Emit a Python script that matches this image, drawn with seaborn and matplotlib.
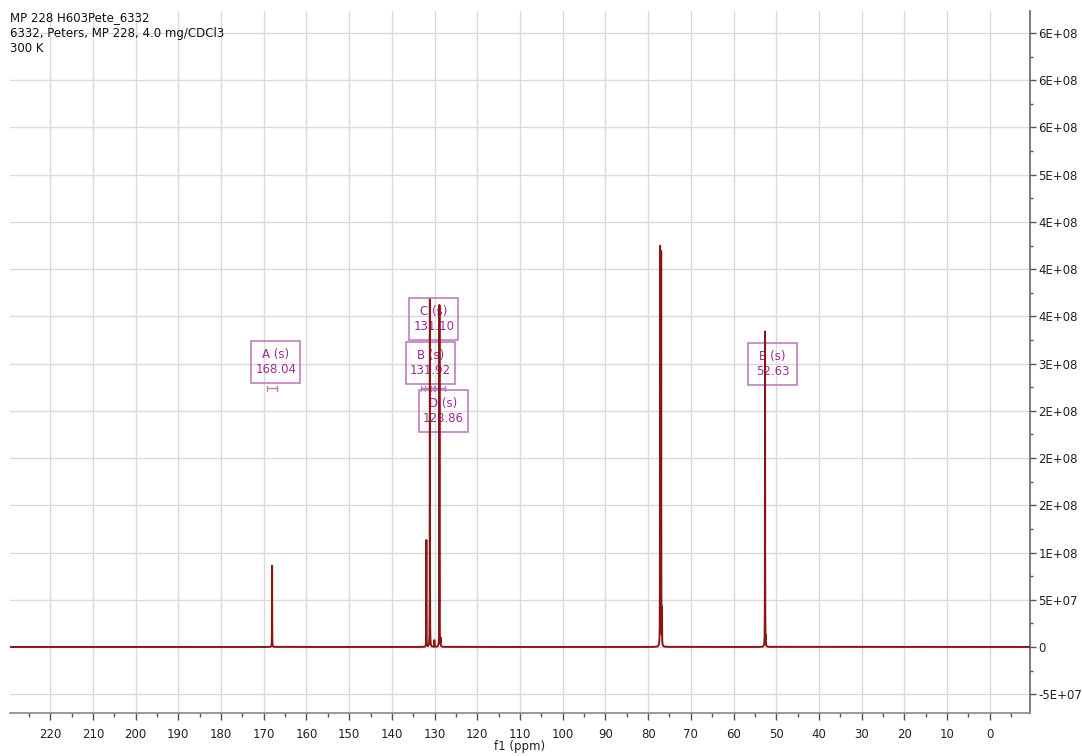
import numpy as np
import pandas as pd
import matplotlib
matplotlib.use("Agg")
import matplotlib.pyplot as plt
from matplotlib.patches import Rectangle
import seaborn as sns

# ---- data ----
header_lines = ["MP 228 H603Pete_6332", "6332, Peters, MP 228, 4.0 mg/CDCl3", "300 K"]
peak_ppm = [168.04, 131.92, 131.10, 130.05, 128.86, 128.60, 77.20, 76.95, 76.75, 52.63, 52.45]
peak_height = [8.6e7, 1.13e8, 3.68e8, 7.0e6, 3.62e8, 8.0e6, 4.22e8, 4.16e8, 3.8e7, 3.34e8, 9.0e6]
label_names = ["A", "B", "C", "D", "E"]
label_ppm = [168.04, 131.92, 131.10, 128.86, 52.63]
x_ticks = [220, 210, 200, 190, 180, 170, 160, 150, 140, 130, 120, 110, 100, 90, 80, 70, 60, 50, 40, 30, 20, 10, 0]
y_tick_values = [-5e7, 0, 5e7, 1e8, 1.5e8, 2e8, 2.5e8, 3e8, 3.5e8, 4e8, 4.5e8, 5e8, 5.5e8, 6e8, 6.5e8]
y_tick_labels = ["-5E+07", "0", "5E+07", "1E+08", "2E+08", "2E+08", "2E+08", "3E+08",
                 "4E+08", "4E+08", "4E+08", "5E+08", "6E+08", "6E+08", "6E+08"]

# ---- build spectrum from peak list (Lorentzian lines) ----
ppm = np.round(np.arange(-9.4, 229.4, 0.01), 2)
hwhm = 0.02
intensity = np.zeros_like(ppm)
for p, h in zip(peak_ppm, peak_height):
    intensity += h * hwhm**2 / ((ppm - p) ** 2 + hwhm**2)
df = pd.DataFrame({"ppm": ppm, "intensity": intensity})

sns.set_theme(style="white")
plt.rcParams["font.family"] = ["DejaVu Sans"]

fig = plt.figure(figsize=(10.82, 7.56), dpi=100)
W, H = 1082, 756
ax = fig.add_axes([10 / W, 1 - 713 / H, (1030 - 10) / W, (713 - 11) / H])

line_color = "#8b1515"
sns.lineplot(data=df, x="ppm", y="intensity", ax=ax, color=line_color, linewidth=1.4, zorder=5)

ax.set_xlim(229.4, -9.4)
ax.set_ylim(-6.99e7, 6.733e8)

# grid
ax.set_xticks(x_ticks)
ax.set_xticks(np.arange(225, -10, -5), minor=True)
ax.set_yticks(y_tick_values)
ax.set_yticklabels(y_tick_labels)
ax.set_yticks(np.arange(-5e7, 6.75e8, 2.5e7), minor=True)
ax.grid(True, which="major", color="#dadada", linewidth=1.0)
ax.set_axisbelow(True)

ax.yaxis.tick_right()
ax.yaxis.set_label_position("right")
ax.tick_params(axis="y", which="major", direction="out", length=4, width=1, color="#555555",
               labelsize=8.5, labelcolor="#222222", pad=2, right=True, left=False)
ax.tick_params(axis="y", which="minor", direction="out", length=2, width=1, color="#555555", right=True, left=False)
ax.tick_params(axis="x", which="major", direction="out", length=5, width=1, color="#555555",
               labelsize=8.5, labelcolor="#222222", pad=6, bottom=True)
ax.tick_params(axis="x", which="minor", direction="out", length=3, width=1, color="#555555", bottom=True)

for s in ["left", "top"]:
    ax.spines[s].set_visible(False)
ax.spines["right"].set_color("#666666")
ax.spines["right"].set_linewidth(1.2)
ax.spines["bottom"].set_color("#888888")
ax.spines["bottom"].set_linewidth(1.2)

ax.set_xlabel("f1 (ppm)", fontsize=8.5, color="#222222", labelpad=-1)
ax.set_ylabel("")

# header text
for i, t in enumerate(header_lines):
    fig.text(10 / W, 1 - (18 + 15 * i) / H, t, fontsize=8.5, color="#111111", va="center", ha="left")

# annotation boxes: centre offsets (ppm shift, intensity level) relative to each peak
box_offsets = {"A": (0.9, 3.02e8), "B": (1.0, 3.01e8), "C": (0.9, 3.47e8), "D": (0.96, 2.50e8), "E": (1.73, 3.0e8)}
box_w = 11.5      # ppm
box_h = 4.45e7    # intensity units
line_gap = 0.8e7  # half distance between the two text lines
text_color = "#9a2a96"
edge_color = "#c27dc0"
for name, p in zip(label_names, label_ppm):
    dx, yc = box_offsets[name]
    xc = p - dx
    ax.add_patch(Rectangle((xc + box_w / 2, yc - box_h / 2), -box_w, box_h, facecolor="none",
                           edgecolor=edge_color, linewidth=1.2, zorder=4))
    ax.text(xc, yc + line_gap, f"{name} (s)", ha="center", va="center", fontsize=8.5,
            color=text_color, zorder=4)
    ax.text(xc, yc - line_gap, f"{p:.2f}", ha="center", va="center", fontsize=8.5,
            color=text_color, zorder=4)

# integration brackets
yb = 2.74e8
cap = 0.25e7
for name, p in zip(label_names[:4], label_ppm[:4]):
    half = 1.2
    ax.plot([p - half, p + half], [yb, yb], color=edge_color, lw=1, zorder=3)
    ax.plot([p - half, p - half], [yb - cap, yb + cap], color=edge_color, lw=1, zorder=3)
    ax.plot([p + half, p + half], [yb - cap, yb + cap], color=edge_color, lw=1, zorder=3)

fig.savefig("out.png", dpi=100)
